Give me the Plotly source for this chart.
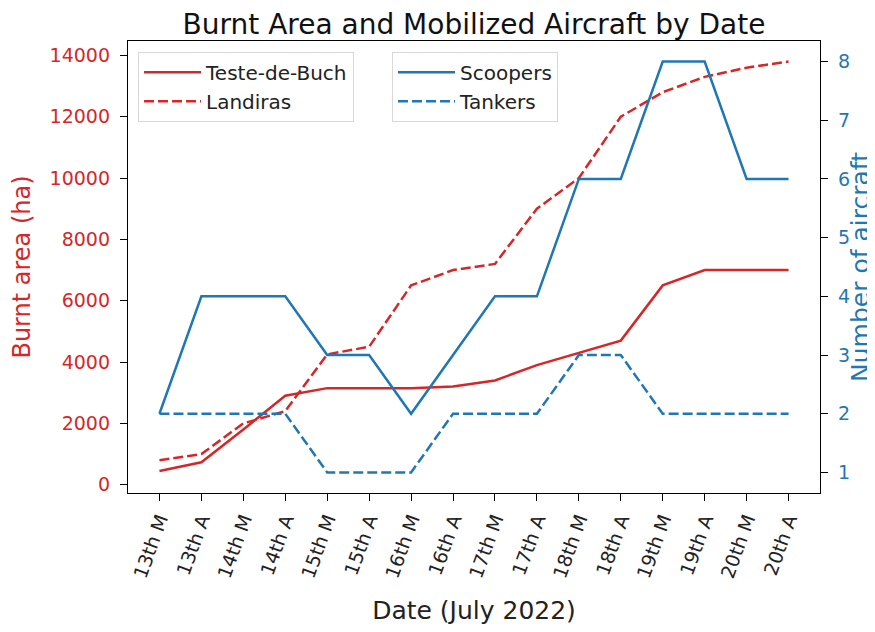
import plotly.graph_objects as go

dates = ['13th M', '13th A', '14th M', '14th A', '15th M', '15th A', '16th M', '16th A',
         '17th M', '17th A', '18th M', '18th A', '19th M', '19th A', '20th M', '20th A']
teste_de_buch = [450, 730, 1800, 2900, 3150, 3150, 3150, 3200, 3400, 3900, 4300, 4700, 6500, 7000, 7000, 7000]
landiras = [800, 1000, 2000, 2400, 4250, 4500, 6500, 7000, 7200, 9000, 10000, 12000, 12800, 13300, 13600, 13800]
scoopers = [2, 4, 4, 4, 3, 3, 2, 3, 4, 4, 6, 6, 8, 8, 6, 6]
tankers = [2, 2, 2, 2, 1, 1, 1, 2, 2, 2, 3, 3, 2, 2, 2, 2]
area_ticks = [0, 2000, 4000, 6000, 8000, 10000, 12000, 14000]
aircraft_ticks = [1, 2, 3, 4, 5, 6, 7, 8]

red = '#d62728'
blue = '#1f77b4'
fnt = 'DejaVu Sans'
dash = '10px,4px'

fig = go.Figure()
fig.add_trace(go.Scatter(x=dates, y=teste_de_buch, mode='lines', name='Teste-de-Buch',
                         line=dict(color=red, width=2.5), legend='legend'))
fig.add_trace(go.Scatter(x=dates, y=landiras, mode='lines', name='Landiras',
                         line=dict(color=red, width=2.5, dash=dash), legend='legend'))
fig.add_trace(go.Scatter(x=dates, y=scoopers, mode='lines', name='Scoopers', yaxis='y2',
                         line=dict(color=blue, width=2.5), legend='legend2'))
fig.add_trace(go.Scatter(x=dates, y=tankers, mode='lines', name='Tankers', yaxis='y2',
                         line=dict(color=blue, width=2.5, dash=dash), legend='legend2'))

legend_style = dict(bgcolor='white', bordercolor='#d8d8d8', borderwidth=1,
                    font=dict(family=fnt, size=20, color='#222'), itemwidth=57,
                    xanchor='left', yanchor='top', tracegroupgap=0)

# the page body has an 8px margin, so the figure is a bit smaller than the window
fig.update_layout(
    width=867, height=624,
    margin=dict(l=120, r=55, t=33, b=139),
    paper_bgcolor='white', plot_bgcolor='white',
    title=dict(text='Burnt Area and Mobilized Aircraft by Date', xref='paper', x=0.5, xanchor='center',
               yref='container', y=0.99, yanchor='top', font=dict(family=fnt, size=28, color='#111')),
    xaxis=dict(type='category', range=[-0.75, 15.75], tickangle=-70, showgrid=False, automargin=False,
               showline=True, linecolor='black', linewidth=1.3, mirror=True,
               ticks='outside', ticklen=7, tickcolor='black',
               tickfont=dict(family=fnt, size=19, color='#222'),
               title=dict(text='Date (July 2022)', font=dict(family=fnt, size=25, color='#222'), standoff=21)),
    yaxis=dict(range=[-270, 14470], tickvals=area_ticks, ticktext=[str(v) for v in area_ticks],
               showgrid=False, zeroline=False, automargin=False,
               showline=True, linecolor='black', linewidth=1.3,
               ticks='outside', ticklen=7, tickcolor='black', ticklabelstandoff=6,
               tickfont=dict(family=fnt, size=19, color=red),
               title=dict(text='Burnt area (ha)', font=dict(family=fnt, size=24, color=red), standoff=15)),
    yaxis2=dict(range=[0.65, 8.35], tickvals=aircraft_ticks, overlaying='y', side='right',
                showgrid=False, zeroline=False, automargin=False,
                showline=True, linecolor='black', linewidth=1.3,
                ticks='outside', ticklen=7, tickcolor='black', ticklabelstandoff=6,
                tickfont=dict(family=fnt, size=19, color=blue),
                title=dict(text='Number of aircraft', font=dict(family=fnt, size=25, color=blue), standoff=9)),
    legend=dict(x=0.0145, y=0.976, **legend_style),
    legend2=dict(x=0.3815, y=0.976, **legend_style),
)

fig.write_html('out.html')
